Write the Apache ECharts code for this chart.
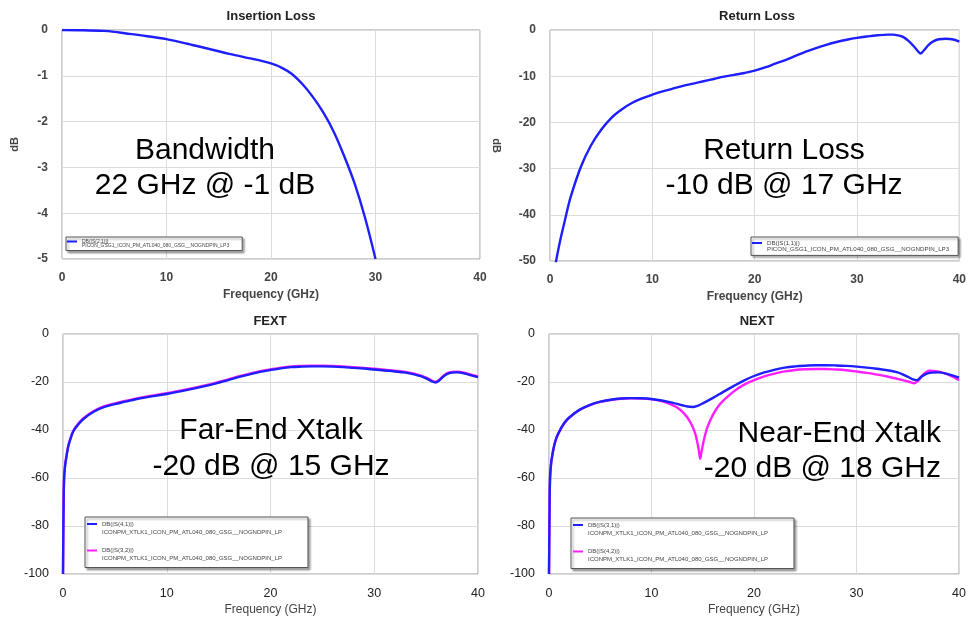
<!DOCTYPE html>
<html>
<head>
<meta charset="utf-8">
<script src="https://cdn.jsdelivr.net/npm/echarts@6/dist/echarts.min.js"></script>
<style>
  html, body { margin: 0; padding: 0; background: #fff; }
  #chart { width: 969px; height: 617px; }
</style>
</head>
<body>
<div id="chart"></div>
<script>
// ---- data ----
var IL_FREQ = [0, 2, 4, 5, 6, 8, 10, 12, 14, 16, 18, 19, 20, 21, 22, 23, 24, 25, 26, 27, 28, 29, 30];
var IL_DB   = [0, -0.005, -0.02, -0.04, -0.07, -0.13, -0.2, -0.3, -0.41, -0.52, -0.62, -0.67, -0.73, -0.82, -0.96, -1.18, -1.46, -1.8, -2.22, -2.75, -3.35, -4.1, -5.0];

var RL_FREQ = [0.55, 1, 1.5, 2, 3, 4, 5, 6, 7, 8, 9, 10, 11, 12, 13, 14, 15, 16, 17, 18, 19, 20, 21, 22, 23, 24, 25, 26, 27, 28, 29, 30, 31, 32, 33, 33.5, 34, 34.5, 35, 35.5, 36, 36.2, 36.5, 37, 37.5, 38, 38.7, 39.3, 40];
var RL_DB   = [-50.5, -45.5, -40.8, -36.3, -29.7, -25.0, -21.6, -19.0, -17.2, -15.8, -14.8, -14.0, -13.3, -12.7, -12.1, -11.6, -11.1, -10.6, -10.1, -9.7, -9.3, -8.8, -8.1, -7.3, -6.5, -5.6, -4.7, -3.9, -3.2, -2.6, -2.1, -1.7, -1.4, -1.15, -1.0, -1.0, -1.15, -1.5, -2.3, -3.4, -4.7, -5.1, -4.5, -3.2, -2.4, -2.0, -1.9, -2.0, -2.5];

var FX_FREQ = [0, 0.05, 0.1, 0.2, 0.3, 0.5, 0.7, 1, 1.5, 2, 3, 4, 5, 6, 7, 8, 10, 12, 14, 15, 16, 17, 18, 19, 20, 21, 22, 23, 24, 25, 26, 27, 28, 29, 30, 31, 32, 33, 34, 34.5, 35, 35.5, 35.9, 36.2, 36.6, 37, 37.5, 38, 39, 40];
var FX_S41  = [-100, -75, -61, -55, -52, -47, -44, -40.5, -37.5, -35.3, -32.3, -30.4, -29.2, -28.2, -27.2, -26.4, -25.0, -23.3, -21.4, -20.3, -19.1, -17.9, -16.8, -15.8, -15.0, -14.3, -13.8, -13.6, -13.5, -13.5, -13.6, -13.8, -14.1, -14.4, -14.8, -15.2, -15.6, -16.1, -17.0, -17.6, -18.5, -19.6, -20.2, -19.6, -18.0, -16.7, -16.1, -16.0, -16.8, -18.0];
var FX_S32  = [-100, -74, -60.5, -54.6, -51.7, -46.7, -43.7, -40.2, -37.2, -35.0, -32.0, -30.1, -28.9, -27.9, -26.9, -26.1, -24.7, -23.0, -21.1, -20.0, -18.8, -17.6, -16.5, -15.5, -14.7, -14.0, -13.5, -13.3, -13.2, -13.2, -13.3, -13.5, -13.8, -14.1, -14.5, -14.9, -15.3, -15.8, -16.7, -17.3, -18.2, -19.3, -19.9, -19.3, -17.7, -16.4, -15.8, -15.7, -16.5, -17.7];

var NX_FREQ_A = [0, 0.05, 0.1, 0.2, 0.3, 0.5, 0.7, 1, 1.5, 2, 3, 4, 5, 6, 7, 8, 9, 10, 11, 12, 13, 13.5, 14, 14.5, 15, 16, 17, 18, 19, 20, 21, 22, 23, 24, 25, 26, 27, 28, 29, 30, 31, 32, 33, 34, 34.5, 35, 35.5, 35.9, 36.3, 36.8, 37.3, 38, 39, 40];
var NX_S31    = [-100, -75, -60, -54, -51, -46.5, -43.5, -40.6, -37, -34.7, -31.5, -29.5, -28.2, -27.4, -26.9, -26.7, -26.8, -27.1, -27.7, -28.6, -29.7, -30.2, -30.4, -29.9, -28.9, -26.6, -24.1, -21.7, -19.4, -17.5, -16.0, -14.9, -14.0, -13.5, -13.2, -13.0, -13.0, -13.1, -13.3, -13.6, -14.0, -14.5, -15.1, -16.0, -16.8, -17.8, -18.9, -19.2, -17.9, -16.6, -16.1, -16.0, -16.8, -18.2];

var NX_FREQ_B = [0, 0.05, 0.1, 0.2, 0.3, 0.5, 0.7, 1, 1.5, 2, 3, 4, 5, 6, 7, 8, 9, 10, 11, 12, 12.5, 13, 13.5, 14, 14.3, 14.6, 14.75, 14.9, 15.2, 15.5, 16, 16.5, 17, 18, 19, 20, 21, 22, 23, 24, 25, 26, 27, 28, 29, 30, 31, 32, 33, 34, 35, 35.6, 36, 36.4, 36.8, 37.2, 37.7, 38.3, 39, 40];
var NX_S42    = [-100, -76, -61, -54.5, -51.3, -46.8, -43.7, -40.8, -37.2, -34.8, -31.6, -29.6, -28.3, -27.5, -27.0, -26.8, -26.9, -27.2, -28.0, -29.5, -30.6, -32.3, -34.8, -38.5, -42, -48, -52, -48.5, -42.5, -38.3, -33.6, -30.2, -27.8, -24.0, -21.2, -19.2, -17.7, -16.5, -15.6, -15.0, -14.7, -14.6, -14.6, -14.8, -15.1, -15.6, -16.2, -16.9, -17.7, -18.7, -19.8, -20.5, -19.5, -17.3, -15.8, -15.3, -15.5, -16.0, -17.0, -19.2];

var TITLES = ['Insertion Loss', 'Return Loss', 'FEXT', 'NEXT'];
var NOTES = [
  ['Bandwidth', '22 GHz @ -1 dB'],
  ['Return Loss', '-10 dB @ 17 GHz'],
  ['Far-End Xtalk', '-20 dB @ 15 GHz'],
  ['Near-End Xtalk', '-20 dB @ 18 GHz']
];
var FILE_A = 'PICON_GSG1_ICON_PM_ATL040_080_GSG__NOGNDPIN_LP3';
var FILE_B = 'ICONPM_XTLK1_ICON_PM_ATL040_080_GSG__NOGNDPIN_LP';
var LEGEND_FILES = {
  'DB(|S(2,1)|)': FILE_A,
  'DB(|S(1,1)|)': FILE_A,
  'DB(|S(4,1)|)': FILE_B,
  'DB(|S(3,2)|)': FILE_B,
  'DB(|S(3,1)|)': FILE_B,
  'DB(|S(4,2)|)': FILE_B
};

var BLUE = '#1e1eff';
var PINK = '#ff1eff';
var FONT = "'Liberation Sans', Arial, sans-serif";

function pairs(xs, ys) {
  return xs.map(function (x, i) { return [x, ys[i]]; });
}

// legend icon: a short line sitting on the first text row
function lineIcon(w, h, cy) {
  return 'path://M0,0h0.01v0.01h-0.01z M0,' + (cy - 1) + 'h' + w + 'v2h-' + w + 'z M0,' + (h - 0.01) + 'h0.01v0.01h-0.01z';
}

var chart = echarts.init(document.getElementById('chart'), null, { renderer: 'canvas' });

var grids = [
  { left: 62, top: 30, width: 418, height: 229 },
  { left: 550, top: 30, width: 414, height: 231 },
  { left: 63, top: 334, width: 415, height: 241 },
  { left: 549, top: 334, width: 417, height: 243 }
];
grids.forEach(function (g) { g.show = true; g.borderColor = '#9a9a9a'; g.borderWidth = 1; });

var topLbl = { fontFamily: FONT, fontSize: 12, fontWeight: 'bold', color: '#444' };
var botLbl = { fontFamily: FONT, fontSize: 12.5, color: '#222' };

function xAxis(i, lbl) {
  return {
    type: 'value', gridIndex: i, min: 0, max: 40, interval: 10,
    axisLine: { show: false }, axisTick: { show: false },
    axisLabel: Object.assign({ margin: 13 }, lbl),
    splitLine: { lineStyle: { color: '#dcdcdc' } },
    name: 'Frequency (GHz)', nameLocation: 'middle', nameGap: 30,
    nameTextStyle: { fontFamily: FONT, fontSize: 12, fontWeight: i < 2 ? 'bold' : 'normal', color: '#444' }
  };
}
function yAxis(i, min, step, lbl, extra) {
  return Object.assign({
    type: 'value', gridIndex: i, min: min, max: 0, interval: step,
    axisLine: { show: false }, axisTick: { show: false },
    axisLabel: Object.assign({ margin: 14 }, lbl),
    splitLine: { lineStyle: { color: '#dcdcdc' } }
  }, extra || {});
}

function line(name, i, data, color, z) {
  return {
    type: 'line', name: name, xAxisIndex: i, yAxisIndex: i, data: data,
    showSymbol: false, symbol: 'none', smooth: 0.35, clip: true,
    color: color, lineStyle: { color: color, width: 2.4 }, z: z || 2
  };
}

function legend(names, left, top, fs, lh, gap, pad) {
  return {
    data: names, left: left, top: top, orient: 'vertical', selectedMode: false,
    itemWidth: 10, itemHeight: lh * 2, itemGap: gap,
    icon: lineIcon(10, lh * 2, lh / 2), symbolKeepAspect: false,
    padding: pad,
    textStyle: { fontFamily: FONT, fontSize: fs, lineHeight: lh, color: '#444' },
    formatter: function (n) { return n + '\n' + LEGEND_FILES[n]; },
    backgroundColor: '#fff', borderColor: '#555', borderWidth: 1,
    shadowColor: 'rgba(0,0,0,0.35)', shadowBlur: 2, shadowOffsetX: 2, shadowOffsetY: 2
  };
}

var titleCenters = [[271, 10], [757, 10], [270, 315], [757, 315]];

var notePos = [
  { x: 205, y: [151, 186], align: 'center' },
  { x: 784, y: [151, 186], align: 'center' },
  { x: 271, y: [431, 467], align: 'center' },
  { x: 941, y: [434, 469], align: 'right' }
];
var graphics = [];
NOTES.forEach(function (lines, k) {
  lines.forEach(function (t, j) {
    graphics.push({
      type: 'text', x: notePos[k].x, y: notePos[k].y[j], z: 50,
      style: {
        text: t, font: '30px ' + FONT, fill: '#000',
        align: notePos[k].align, verticalAlign: 'middle',
        textAlign: notePos[k].align, textVerticalAlign: 'middle'
      }
    });
  });
});

var option = {
  backgroundColor: '#fff',
  animation: false,
  title: TITLES.map(function (t, i) {
    return {
      text: t, left: titleCenters[i][0], top: titleCenters[i][1], textAlign: 'center', padding: 0,
      textStyle: { fontFamily: FONT, fontSize: 13, fontWeight: 'bold', color: '#222' }
    };
  }),
  grid: grids,
  xAxis: [xAxis(0, topLbl), xAxis(1, topLbl), xAxis(2, botLbl), xAxis(3, botLbl)],
  yAxis: [
    yAxis(0, -5, 1, topLbl, { name: 'dB', nameLocation: 'middle', nameGap: 42,
      nameTextStyle: { fontFamily: FONT, fontSize: 11, fontWeight: 'bold', color: '#444' } }),
    yAxis(1, -50, 10, topLbl, { name: 'dB', nameLocation: 'middle', nameGap: 48, nameRotate: -90,
      nameTextStyle: { fontFamily: FONT, fontSize: 11, fontWeight: 'bold', color: '#444' } }),
    yAxis(2, -100, 20, botLbl),
    yAxis(3, -100, 20, botLbl)
  ],
  legend: [
    legend(['DB(|S(2,1)|)'], 66, 237, 5, 4.5, 0, [2, 13, 2, 1]),
    legend(['DB(|S(1,1)|)'], 751, 237, 6.2, 6.2, 0, [3, 9, 3, 1]),
    legend(['DB(|S(4,1)|)', 'DB(|S(3,2)|)'], 85, 517, 6, 8, 10.5, [3, 26, 5, 2]),
    legend(['DB(|S(3,1)|)', 'DB(|S(4,2)|)'], 571, 518, 6, 8, 10.5, [3, 26, 5, 2])
  ],
  graphic: graphics,
  series: [
    line('DB(|S(2,1)|)', 0, pairs(IL_FREQ, IL_DB), BLUE),
    line('DB(|S(1,1)|)', 1, pairs(RL_FREQ, RL_DB), BLUE),
    line('DB(|S(3,2)|)', 2, pairs(FX_FREQ, FX_S32), PINK, 2),
    line('DB(|S(4,1)|)', 2, pairs(FX_FREQ, FX_S41), BLUE, 3),
    line('DB(|S(4,2)|)', 3, pairs(NX_FREQ_B, NX_S42), PINK, 2),
    line('DB(|S(3,1)|)', 3, pairs(NX_FREQ_A, NX_S31), BLUE, 3)
  ]
};

chart.setOption(option);
</script>
</body>
</html>
